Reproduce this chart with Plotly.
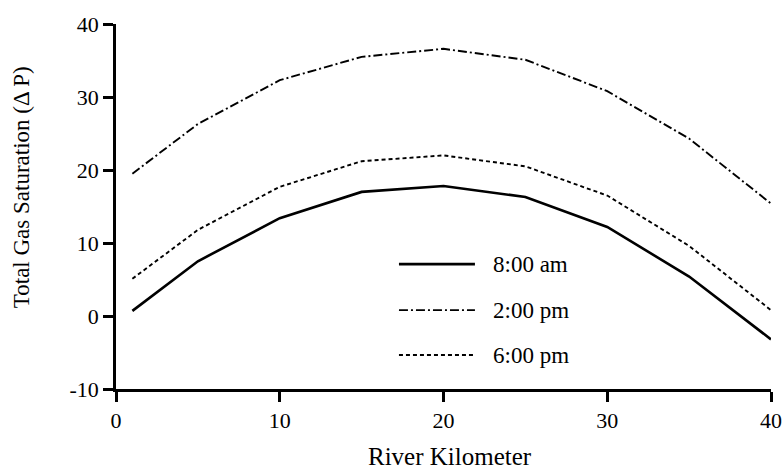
import plotly.graph_objects as go

km = [1, 5, 10, 15, 20, 25, 30, 35, 40]
am8 = [0.7, 7.5, 13.4, 17.0, 17.8, 16.3, 12.2, 5.4, -3.2]
pm2 = [19.5, 26.3, 32.3, 35.5, 36.6, 35.1, 30.8, 24.3, 15.4]
pm6 = [5.1, 11.8, 17.7, 21.2, 22.0, 20.5, 16.5, 9.6, 0.8]
names = ["8:00 am", "2:00 pm", "6:00 pm"]
x_ticks = [0, 10, 20, 30, 40]
y_ticks = [-10, 0, 10, 20, 30, 40]
y_tick_text = ["-10", "0", "10", "20", "30", "40"]
x_title = "River Kilometer"
y_title = "Total Gas Saturation (Δ P)"

series = [am8, pm2, pm6]
dashes = ["solid", "9px,3px,2px,3px", "4px,3px"]
widths = [2.6, 1.9, 1.9]

FONT = "Liberation Serif"

fig = go.Figure()
for name, ys, d, w in zip(names, series, dashes, widths):
    fig.add_trace(go.Scatter(x=km, y=ys, mode="lines", name=name,
                             line=dict(color="black", width=w, dash=d),
                             showlegend=False, hoverinfo="skip"))

# custom legend (sample line + label)
leg_y = [0.342, 0.216, 0.093]
for name, d, w, ly in zip(names, dashes, widths, leg_y):
    fig.add_shape(type="line", xref="paper", yref="paper",
                  x0=0.432, x1=0.548, y0=ly, y1=ly,
                  line=dict(color="black", width=w, dash=d))
    fig.add_annotation(xref="paper", yref="paper", x=0.576, y=ly,
                       text=name, showarrow=False, xanchor="left",
                       yanchor="middle", xshift=-2,
                       font=dict(family=FONT, size=23, color="black"))

# axis titles
fig.add_annotation(xref="paper", yref="paper", x=0.51, y=-0.1836,
                   text=x_title, showarrow=False, xanchor="center", yanchor="middle",
                   font=dict(family=FONT, size=25, color="black"))
fig.add_annotation(xref="paper", yref="paper", x=-0.145, y=0.553,
                   text=y_title, showarrow=False, xanchor="center", yanchor="middle",
                   textangle=-90,
                   font=dict(family=FONT, size=23, color="black"))

axis_common = dict(showgrid=False, zeroline=False, showline=True,
                   linecolor="black", linewidth=2.5, ticks="outside",
                   ticklen=10, tickwidth=2.5, tickcolor="black",
                   tickfont=dict(family=FONT, size=22, color="black"),
                   mirror=False, automargin=False)

fig.update_layout(
    width=782, height=472,
    margin=dict(l=116, r=11, t=24, b=83),
    plot_bgcolor="white", paper_bgcolor="white",
    xaxis=dict(range=[0, 40], tickvals=x_ticks, ticklabeloverflow="allow", **axis_common),
    yaxis=dict(range=[-10, 40], tickvals=y_ticks, ticktext=y_tick_text, **axis_common),
)

fig.write_html("out.html", config={"displayModeBar": False},
               post_script="document.body.style.margin='0';document.body.style.overflow='hidden';")
